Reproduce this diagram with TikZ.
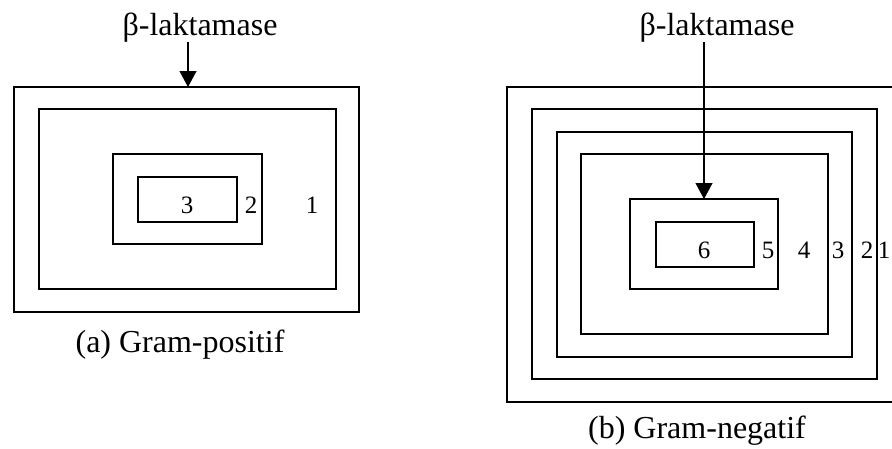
\documentclass[tikz,border=0pt]{standalone}
\usepackage{fontspec}
\setmainfont{Liberation Serif}
\usetikzlibrary{arrows.meta}
\begin{document}
\begin{tikzpicture}[x=1pt,y=-1pt,
  box/.style={draw, line width=1.8pt},
  big/.style={inner sep=0pt, anchor=base, font=\fontsize{32}{38}\selectfont},
  num/.style={inner sep=0pt, anchor=base, font=\fontsize{25}{30}\selectfont},
  arr/.style={line width=1.2pt, -{Triangle[length=16pt,width=17pt]}}]
\useasboundingbox (0,0) rectangle (892,448);
\clip (0,0) rectangle (892,448);
% ---------- (a) Gram-positif ----------
\draw[box] (14,87) rectangle (359,312);
\draw[box] (39,109) rectangle (336,289);
\draw[box] (113,154) rectangle (262,244);
\draw[box] (138,177) rectangle (237,222);
\coordinate (a1) at (188,87);
\node[big] (ta) at (200,35) {β-laktamase};
\draw[arr] (ta.south -| a1) -- (a1);
\node[num] (na3) at (187,213) {3};
\node[num] (na2) at (251,213) {2};
\node[num] (na1) at (312,213) {1};
\node[big] (ca) at (180,352) {(a) Gram-positif};
% ---------- (b) Gram-negatif ----------
\draw[box] (507,87) rectangle (920,402);
\draw[box] (532,109) rectangle (877,379);
\draw[box] (557,132) rectangle (852,357);
\draw[box] (581,154) rectangle (828,334);
\draw[box] (630,199) rectangle (778,289);
\draw[box] (656,222) rectangle (754,267);
\coordinate (b1) at (704,199);
\node[big] (tb) at (717,35) {β-laktamase};
\draw[arr] (tb.south -| b1) -- (b1);
\node[num] (nb6) at (704,258) {6};
\node[num] (nb5) at (768,258) {5};
\node[num] (nb4) at (804,258) {4};
\node[num] (nb3) at (838,258) {3};
\node[num] (nb2) at (867,258) {2};
\node[num] (nb1) at (884,258) {1};
\node[big] (cb) at (697,438) {(b) Gram-negatif};
\end{tikzpicture}
\end{document}
